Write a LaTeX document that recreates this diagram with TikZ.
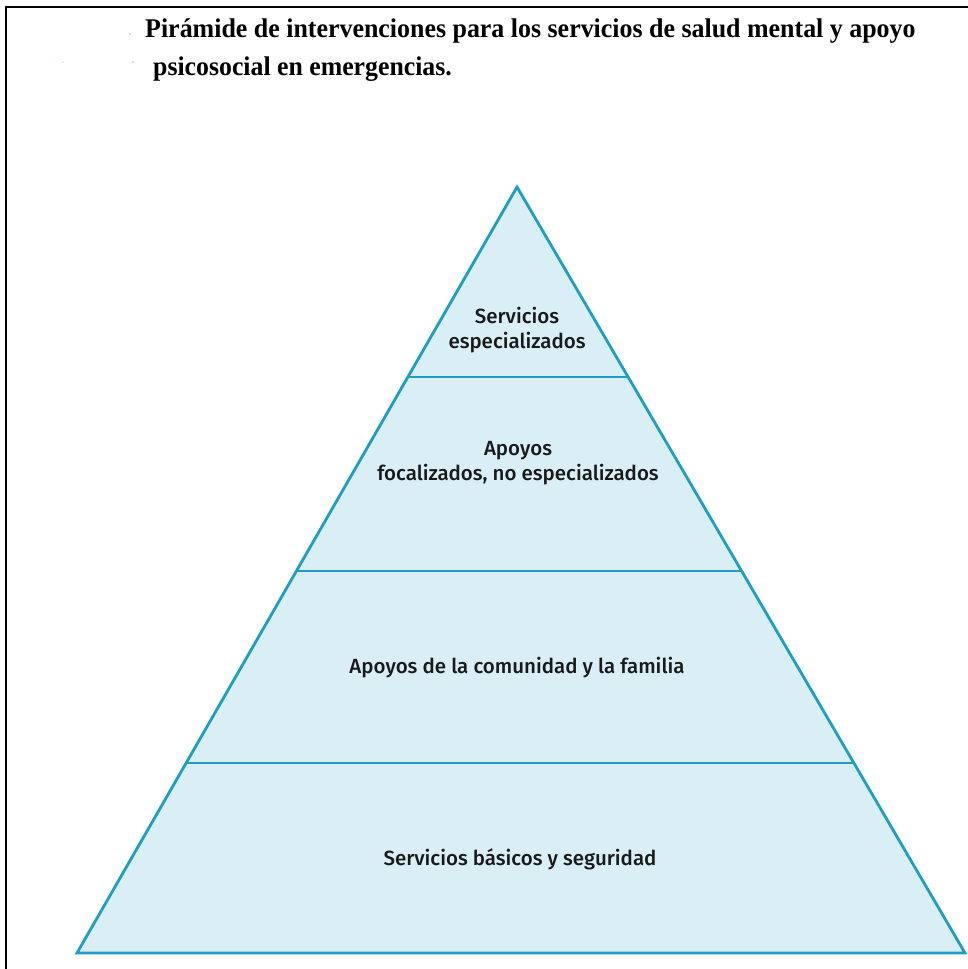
\documentclass[tikz,border=0pt]{standalone}
\usepackage{fontspec}
\setmainfont{Liberation Serif}
\newfontfamily\labelfont{Fira Sans}[UprightFont = {* Medium}]
\usetikzlibrary{positioning, calc}

\definecolor{tierfill}{HTML}{DAEEF5}
\definecolor{tierline}{HTML}{1E9EC0}

\tikzset{
  tier/.style = {fill = tierfill, draw = tierline, line width = 2.8pt, line join = miter},
  cut/.style = {draw = tierline, line width = 2.8pt},
  tierlabel/.style = {font = \labelfont\fontsize{20.5}{25}\selectfont, align = center, text = black!90},
  titleline/.style = {anchor = base west, inner sep = 0pt, font = \bfseries\fontsize{27}{38}\selectfont}
}

\begin{document}
\begin{tikzpicture}[x = 1pt, y = -1pt]
	\useasboundingbox (0, 0) rectangle (968, 969);
	\draw[line width = 2.6pt] (6, 969) -- (6, 7) -- (968, 7);

	% title
	\node[titleline] (title1) at (145, 37) {\scalebox{0.96}[1]{Pirámide de intervenciones para los servicios de salud mental y apoyo}};
	\node[titleline] (title2) at (153, 75) {\scalebox{0.955}[1]{psicosocial en emergencias.}};
	\fill[tierline!60] (130, 34) circle (0.9) (63, 62) circle (0.7) (133, 62) circle (0.9);

	% pyramid
	\coordinate (apex) at (517, 187);
	\coordinate (baseL) at (77, 953);
	\coordinate (baseR) at (965, 953);
	\path[tier] (apex) -- (baseR) -- (baseL) -- cycle;
	\foreach \y/\name in {377/one, 571/two, 763/three} {
		\coordinate (\name L) at ($(apex)!{(\y-187)/766}!(baseL)$);
		\coordinate (\name R) at ($(apex)!{(\y-187)/766}!(baseR)$);
		\draw[cut] (\name L) -- (\name R);
	}

	\node[tierlabel] (special) at (517, 330) {Servicios\\especializados};
	\node[tierlabel] (focus) at (518, 463) {Apoyos\\focalizados, no especializados};
	\node[tierlabel] (family) at (517, 668) {Apoyos de la comunidad y la familia};
	\node[tierlabel] (basic) at (520, 859) {Servicios básicos y seguridad};
\end{tikzpicture}
\end{document}
